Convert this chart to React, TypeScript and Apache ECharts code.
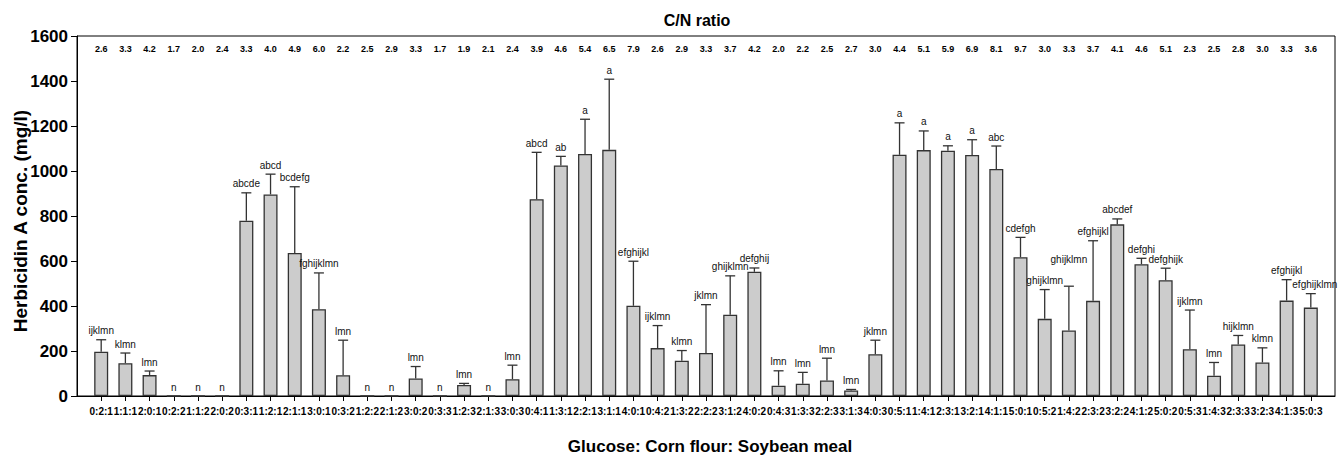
import React, { useEffect, useRef } from "react";
import * as echarts from "echarts";

// Glucose : Corn flour : Soybean meal medium compositions
const categories = [
  "0:2:1", "1:1:1", "2:0:1", "0:2:2", "1:1:2", "2:0:2",
  "0:3:1", "1:2:1", "2:1:1", "3:0:1", "0:3:2", "1:2:2", "2:1:2", "3:0:2", "0:3:3", "1:2:3", "2:1:3", "3:0:3",
  "0:4:1", "1:3:1", "2:2:1", "3:1:1", "4:0:1", "0:4:2", "1:3:2", "2:2:2", "3:1:2", "4:0:2", "0:4:3", "1:3:3", "2:2:3", "3:1:3", "4:0:3",
  "0:5:1", "1:4:1", "2:3:1", "3:2:1", "4:1:1", "5:0:1", "0:5:2", "1:4:2", "2:3:2", "3:2:2", "4:1:2", "5:0:2", "0:5:3", "1:4:3", "2:3:3", "3:2:3", "4:1:3", "5:0:3",
];

const cnRatio = [
  "2.6", "3.3", "4.2", "1.7", "2.0", "2.4",
  "3.3", "4.0", "4.9", "6.0", "2.2", "2.5", "2.9", "3.3", "1.7", "1.9", "2.1", "2.4",
  "3.9", "4.6", "5.4", "6.5", "7.9", "2.6", "2.9", "3.3", "3.7", "4.2", "2.0", "2.2", "2.5", "2.7", "3.0",
  "4.4", "5.1", "5.9", "6.9", "8.1", "9.7", "3.0", "3.3", "3.7", "4.1", "4.6", "5.1", "2.3", "2.5", "2.8", "3.0", "3.3", "3.6",
];

// Herbicidin A concentration (mg/l), mean and standard deviation
const means = [
  197, 146, 93, 0, 0, 0,
  779, 896, 636, 386, 92, 0, 0, 78, 0, 49, 0, 75,
  875, 1025, 1076, 1094, 401, 213, 157, 191, 361, 552, 46, 55, 69, 25, 186,
  1072, 1093, 1090, 1071, 1009, 617, 343, 291, 423, 763, 586, 515, 208, 90, 229, 149, 424, 393,
];

const sds = [
  53, 45, 18, 0, 0, 0,
  124, 90, 294, 161, 156, 0, 0, 53, 0, 7, 0, 62,
  208, 40, 154, 314, 198, 100, 45, 215, 173, 17, 66, 50, 99, 4, 62,
  142, 85, 22, 68, 102, 88, 130, 197, 267, 24, 26, 53, 174, 59, 40, 65, 93, 62,
];

// Duncan grouping letters
const groups = [
  "ijklmn", "klmn", "lmn", "n", "n", "n",
  "abcde", "abcd", "bcdefg", "fghijklmn", "lmn", "n", "n", "lmn", "n", "lmn", "n", "lmn",
  "abcd", "ab", "a", "a", "efghijkl", "ijklmn", "klmn", "jklmn", "ghijklmn", "defghij", "lmn", "lmn", "lmn", "lmn", "jklmn",
  "a", "a", "a", "a", "abc", "cdefgh", "ghijklmn", "ghijklmn", "efghijkl", "abcdef", "defghi", "defghijk", "ijklmn", "lmn", "hijklmn", "klmn", "efghijkl", "efghijklmn",
];

const yTicks = [0, 200, 400, 600, 800, 1000, 1200, 1400, 1600];

const FONT = "'Liberation Sans', Arial, sans-serif";

// extra lift (px) for crowded group labels
const labelLift: Record<number, number> = { 40: 18 };
const labelShift: Record<number, number> = { 50: 4 };

export default function App() {
  const ref = useRef<HTMLDivElement>(null);

  useEffect(() => {
    document.body.style.margin = "0";
    if (!ref.current) return;
    const chart = echarts.init(ref.current, null, { renderer: "svg" });

    const xCats = ["", ...categories, ""];
    const topCats = ["", ...cnRatio, ""];

    const barData = means.map((m, i) => [i + 1, m]);
    const errData = means.map((m, i) => [i + 1, m, m + sds[i]]);

    chart.setOption({
      animation: false,
      backgroundColor: "#ffffff",
      textStyle: { fontFamily: FONT },
      grid: {
        left: 77,
        right: 6,
        top: 36,
        bottom: 60,
        show: true,
        borderColor: "#000",
        borderWidth: 1,
      },
      xAxis: [
        {
          type: "category",
          data: xCats,
          boundaryGap: false,
          axisLine: { lineStyle: { color: "#000", width: 1 } },
          axisTick: {
            length: 5,
            interval: (i: number) => i > 0 && i < xCats.length - 1,
            lineStyle: { color: "#000" },
          },
          axisLabel: {
            interval: 0,
            margin: 10,
            color: "#000",
            fontFamily: FONT,
            fontWeight: "bold",
            fontSize: 10,
          },
          splitLine: { show: false },
        },
        {
          type: "category",
          data: topCats,
          boundaryGap: false,
          position: "top",
          axisLine: { show: false },
          axisTick: { show: false },
          axisLabel: {
            inside: true,
            interval: 0,
            margin: 8,
            color: "#000",
            fontFamily: FONT,
            fontWeight: "bold",
            fontSize: 9,
          },
          splitLine: { show: false },
        },
      ],
      yAxis: {
        type: "value",
        min: yTicks[0],
        max: yTicks[yTicks.length - 1],
        interval: 200,
        axisLine: { show: true, lineStyle: { color: "#000", width: 1 } },
        axisTick: { show: true, length: 6, lineStyle: { color: "#000" } },
        axisLabel: {
          margin: 9,
          color: "#000",
          fontFamily: FONT,
          fontWeight: "bold",
          fontSize: 17,
          formatter: (v: number) => String(v),
        },
        splitLine: { show: false },
      },
      graphic: [
        {
          type: "text",
          x: 697,
          y: 20,
          style: {
            text: "C/N ratio",
            fontFamily: FONT,
            fontWeight: "bold",
            fontSize: 16,
            fill: "#000",
            textAlign: "center",
            textVerticalAlign: "middle",
          },
        },
        {
          type: "text",
          x: 710,
          y: 446,
          style: {
            text: "Glucose: Corn flour: Soybean meal",
            fontFamily: FONT,
            fontWeight: "bold",
            fontSize: 17,
            fill: "#000",
            textAlign: "center",
            textVerticalAlign: "middle",
          },
        },
        {
          type: "text",
          x: 20,
          y: 221,
          rotation: Math.PI / 2,
          style: {
            text: "Herbicidin A conc. (mg/l)",
            fontFamily: FONT,
            fontWeight: "bold",
            fontSize: 19,
            fill: "#000",
            textAlign: "center",
            textVerticalAlign: "middle",
          },
        },
      ],
      series: [
        {
          type: "bar",
          xAxisIndex: 0,
          data: barData,
          barWidth: 14,
          itemStyle: {
            color: "#cccccc",
            borderColor: "#333333",
            borderWidth: 1.3,
          },
          z: 2,
        },
        {
          type: "custom",
          xAxisIndex: 0,
          data: errData,
          clip: false,
          z: 3,
          renderItem: (params: any, api: any) => {
            const idx = params.dataIndex;
            const x = api.value(0);
            const base = api.coord([x, api.value(1)]);
            const top = api.coord([x, api.value(2)]);
            const children: any[] = [];
            if (sds[idx] > 0) {
              children.push({
                type: "line",
                shape: { x1: base[0], y1: base[1], x2: top[0], y2: top[1] },
                style: { stroke: "#333333", lineWidth: 1.3 },
              });
              children.push({
                type: "line",
                shape: { x1: top[0] - 5, y1: top[1], x2: top[0] + 5, y2: top[1] },
                style: { stroke: "#333333", lineWidth: 1.3 },
              });
            }
            children.push({
              type: "text",
              x: top[0] + (labelShift[idx] || 0),
              y: top[1] - 9 - (labelLift[idx] || 0),
              style: {
                text: groups[idx],
                fontFamily: FONT,
                fontSize: 10,
                fill: "#111",
                textAlign: "center",
                textVerticalAlign: "middle",
              },
            });
            return { type: "group", children };
          },
        },
      ],
    });

    return () => chart.dispose();
  }, []);

  return <div ref={ref} style={{ width: 1341, height: 456 }} />;
}
